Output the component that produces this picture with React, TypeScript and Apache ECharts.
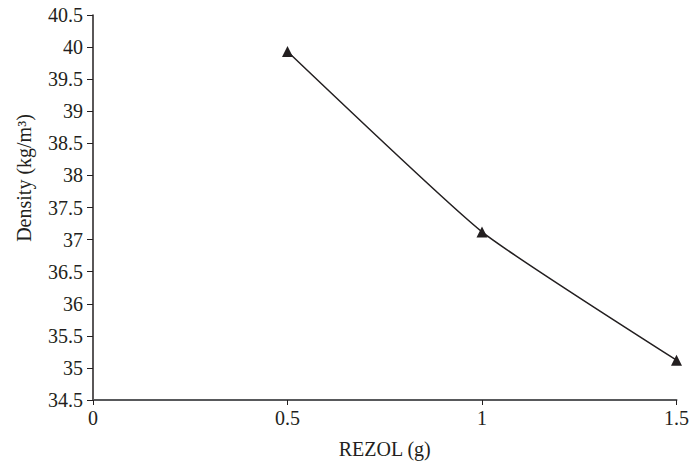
import React, { useEffect, useRef } from "react";
import * as echarts from "echarts";

const xValues = [0.5, 1, 1.5];
const densityValues = [39.93, 37.12, 35.12];
const xTicks = [0, 0.5, 1, 1.5];
const yTicks = [34.5, 35, 35.5, 36, 36.5, 37, 37.5, 38, 38.5, 39, 39.5, 40, 40.5];
const xTitle = "REZOL (g)";
const yTitle = "Density (kg/m³)";

const FONT = "'Liberation Serif', 'Times New Roman', serif";

export default function App() {
  const ref = useRef<HTMLDivElement>(null);
  useEffect(() => {
    if (!ref.current) return;
    const chart = echarts.init(ref.current, null, { renderer: "svg" });
    chart.setOption({
      animation: false,
      backgroundColor: "#ffffff",
      grid: { left: 93, right: 13, top: 15, bottom: 63, containLabel: false },
      xAxis: {
        type: "value",
        min: xTicks[0],
        max: xTicks[xTicks.length - 1],
        interval: 0.5,
        name: xTitle,
        nameLocation: "middle",
        nameGap: 39,
        nameTextStyle: { fontFamily: FONT, fontSize: 20, color: "#231f20" },
        axisLine: { lineStyle: { color: "#58595b", width: 2 } },
        axisTick: { show: true, inside: false, length: 5, lineStyle: { color: "#231f20", width: 1 } },
        axisLabel: {
          fontFamily: FONT,
          fontSize: 20,
          color: "#231f20",
          margin: 8,
          formatter: (v: number) => String(v),
        },
        splitLine: { show: false },
      },
      yAxis: {
        type: "value",
        min: yTicks[0],
        max: yTicks[yTicks.length - 1],
        interval: 0.5,
        axisLine: { show: true, lineStyle: { color: "#231f20", width: 1.5 } },
        axisTick: { show: true, inside: false, length: 6, lineStyle: { color: "#231f20", width: 1 } },
        axisLabel: {
          fontFamily: FONT,
          fontSize: 20,
          color: "#231f20",
          margin: 10,
          formatter: (v: number) => String(v),
        },
        splitLine: { show: false },
      },
      graphic: [
        {
          type: "text",
          x: 24,
          y: 178,
          rotation: Math.PI / 2,
          style: {
            text: yTitle,
            fontFamily: FONT,
            fontSize: 20,
            fill: "#231f20",
            align: "center",
            verticalAlign: "middle",
          },
        },
      ],
      series: [
        {
          type: "line",
          data: xValues.map((x, i) => [x, densityValues[i]]),
          smooth: 0.15,
          symbol: "triangle",
          symbolSize: 11,
          itemStyle: { color: "#231f20" },
          lineStyle: { color: "#231f20", width: 1.5 },
        },
      ],
    });
    return () => chart.dispose();
  }, []);
  return (
    <div
      ref={ref}
      style={{ position: "fixed", left: 0, top: 0, width: 692, height: 464 }}
    />
  );
}
